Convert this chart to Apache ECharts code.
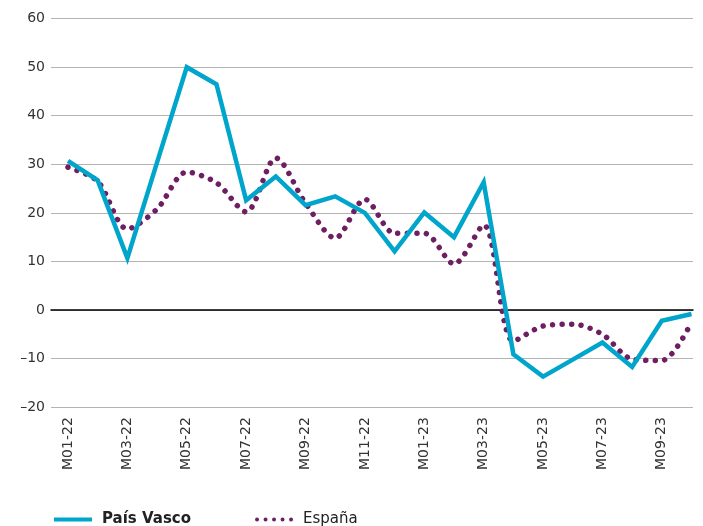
<!DOCTYPE html>
<html>
<head>
<meta charset="utf-8">
<script src="https://cdn.jsdelivr.net/npm/echarts@6/dist/echarts.min.js"></script>
<style>
  html, body { margin: 0; padding: 0; background: #fff; }
  #chart { width: 703px; height: 526px; }
</style>
</head>
<body>
<div id="chart"></div>
<script>
const months = ['M01-22', 'M02-22', 'M03-22', 'M04-22', 'M05-22', 'M06-22', 'M07-22', 'M08-22',
    'M09-22', 'M10-22', 'M11-22', 'M12-22', 'M01-23', 'M02-23', 'M03-23', 'M04-23',
    'M05-23', 'M06-23', 'M07-23', 'M08-23', 'M09-23', 'M10-23'];
const paisVasco = [30.7, 26.7, 10.7, 30.4, 50.0, 46.5, 22.6, 27.5, 21.6, 23.4, 20.0, 12.1,
    20.1, 15.0, 26.3, -9.1, -13.7, -10.2, -6.7, -11.7, -2.2, -0.8];
const espana = [29.4, 26.5, 16.7, 20.8, 28.4, 26.2, 20.2, 31.3, 22.0, 14.8, 22.8, 15.8,
    15.8, 9.5, 17.5, -6.4, -3.3, -2.9, -5.0, -10.1, -10.4, -2.5];
const yTicks = { min: -20, max: 60, step: 10 };

const chart = echarts.init(document.getElementById('chart'));
const font = '"DejaVu Sans", sans-serif';

// legend icons: a solid bar and a row of five dots
const lineIcon = 'path://M0,0H38V4H0Z';
let dotsIcon = 'path://';
for (let k = 0; k < 5; k++) {
    const cx = 2.3 + k * 9.8;
    dotsIcon += `M${cx - 2.3},2.3A2.3,2.3 0 1 1 ${cx + 2.3},2.3A2.3,2.3 0 1 1 ${cx - 2.3},2.3Z`;
}

chart.setOption({
    animation: false,
    grid: [
        { left: 51, right: 10, top: 18.6, bottom: 118.8 },
        { left: 68, right: 11.5, top: 18.6, bottom: 118.8 }
    ],
    xAxis: [
        {
            gridIndex: 0,
            type: 'category',
            data: months,
            axisLine: { show: true, onZero: true, lineStyle: { color: '#000', width: 1.5 } },
            axisTick: { show: false },
            axisLabel: { show: false }
        },
        {
            gridIndex: 1,
            type: 'category',
            data: months,
            boundaryGap: false,
            axisLine: { show: false },
            axisTick: { show: false },
            axisLabel: {
                interval: 1,
                rotate: 90,
                margin: 10,
                color: '#333',
                fontSize: 14,
                fontFamily: font
            }
        }
    ],
    yAxis: [
        {
            gridIndex: 0,
            type: 'value',
            min: yTicks.min,
            max: yTicks.max,
            interval: yTicks.step,
            axisLine: { show: false },
            axisTick: { show: false },
            axisLabel: {
                margin: 6,
                color: '#333',
                fontSize: 14,
                fontFamily: font,
                formatter: v => String(v).replace('-', '\u2013')
            },
            splitLine: { lineStyle: { color: '#b3b3b3', width: 1 } }
        },
        {
            gridIndex: 1,
            type: 'value',
            min: yTicks.min,
            max: yTicks.max,
            interval: yTicks.step,
            show: false
        }
    ],
    legend: {
        left: 49,
        top: 507,
        itemWidth: 38,
        itemHeight: 14,
        itemGap: 64,
        textStyle: { color: '#222', fontSize: 15, fontFamily: font, padding: [0, 0, 0, 5] },
        data: [
            { name: 'País Vasco', icon: lineIcon, textStyle: { fontWeight: 'bold' } },
            { name: 'España', icon: dotsIcon }
        ]
    },
    series: [
        {
            name: 'País Vasco',
            type: 'line',
            xAxisIndex: 1,
            yAxisIndex: 1,
            data: paisVasco,
            symbol: 'none',
            z: 3,
            color: '#00a5cc',
            lineStyle: { color: '#00a5cc', width: 4.5, join: 'miter' }
        },
        {
            name: 'España',
            type: 'line',
            xAxisIndex: 1,
            yAxisIndex: 1,
            data: espana,
            symbol: 'none',
            smooth: 0.3,
            z: 2,
            color: '#6e1e62',
            lineStyle: { color: '#6e1e62', width: 5.5, type: [0.01, 9.5], cap: 'round' }
        }
    ]
});
</script>
</body>
</html>
